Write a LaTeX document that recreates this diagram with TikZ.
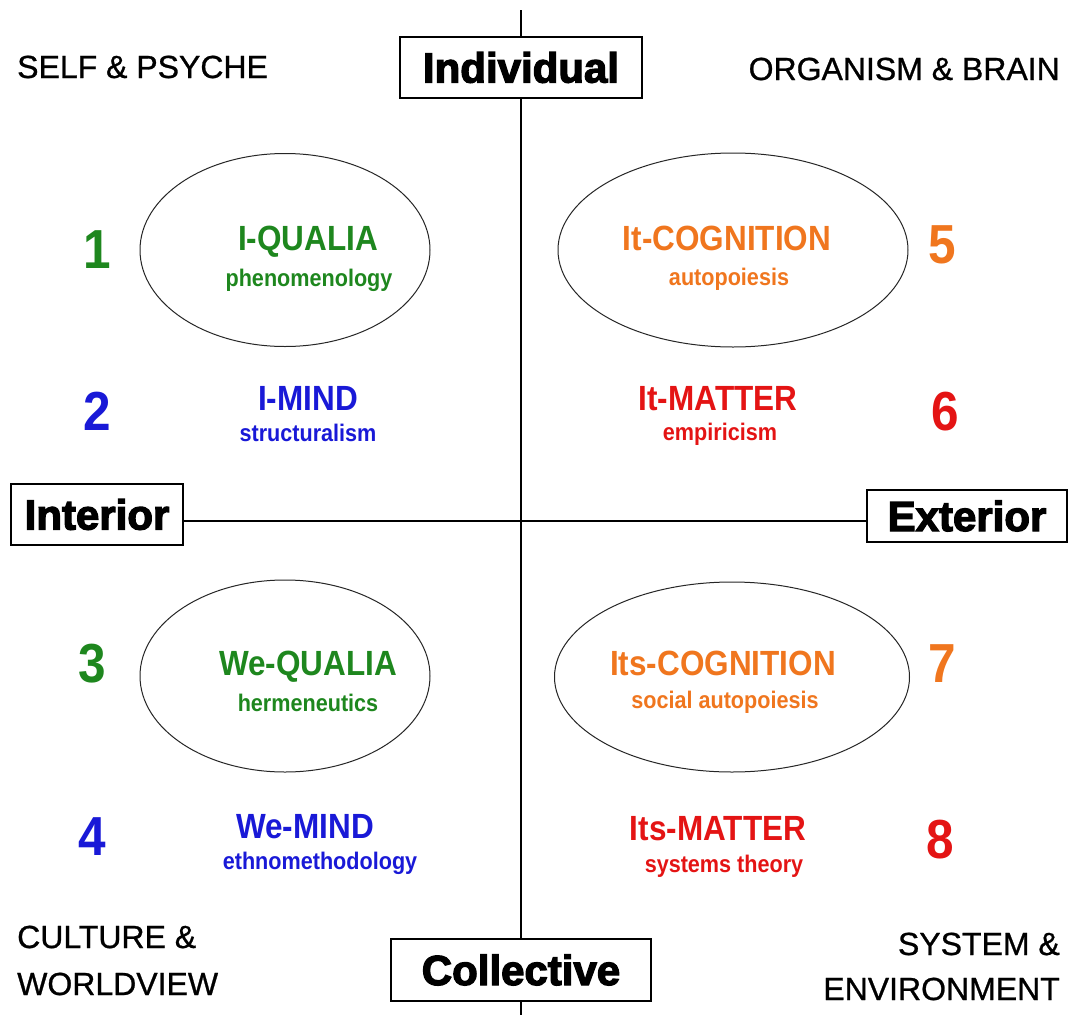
\documentclass[tikz,border=0pt]{standalone}
\usepackage{fontspec}
\usetikzlibrary{shapes.geometric}
\setmainfont{Liberation Sans}
\newfontfamily\heavyfont{Liberation Sans}[BoldFeatures={FakeBold=3}]
\newfontfamily\narrowfont{Liberation Sans}[FakeStretch=0.9]
\newfontfamily\capfont{Liberation Sans}[FakeBold=0.8]
\newcommand\setfs[1]{\fontsize{#1}{#1}\selectfont}
\definecolor{qgreen}{RGB}{30,135,30}
\definecolor{qblue}{RGB}{25,25,215}
\definecolor{qorange}{RGB}{240,118,30}
\definecolor{qred}{RGB}{228,20,20}
\begin{document}
\begin{tikzpicture}[x=1pt,y=-1pt,
  axis/.style={line width=1.5pt,black},
  labelbox/.style={draw,line width=1.5pt,fill=white,inner sep=0pt,
    font=\heavyfont\bfseries\setfs{42}},
  oval/.style={draw,ellipse,line width=1pt,black!85,inner sep=0pt},
  head/.style={anchor=base,inner sep=0pt,font=\narrowfont\bfseries\setfs{35}},
  sub/.style={anchor=base,inner sep=0pt,font=\narrowfont\bfseries\setfs{24}},
  num/.style={anchor=base,inner sep=0pt,font=\narrowfont\bfseries\setfs{55}},
  corner/.style={inner sep=0pt,font=\capfont\setfs{32}},
]
\useasboundingbox (0,0) rectangle (1077,1015);
\fill[white] (0,0) rectangle (1077,1015);

% ellipses around the qualia / cognition quadrants
\node[oval,minimum width=290,minimum height=193] (e1) at (285,250) {};
\node[oval,minimum width=350,minimum height=194] (e5) at (733,250) {};
\node[oval,minimum width=290,minimum height=192] (e3) at (285,676) {};
\node[oval,minimum width=355,minimum height=190] (e7) at (732,677) {};

% axis labels
\node[labelbox,minimum width=242,minimum height=61] (ind) at (521,67.5) {Individual};
\node[labelbox,minimum width=260,minimum height=62] (col) at (521,970) {Collective};
\node[labelbox,minimum width=172,minimum height=61] (int) at (97,514.5) {Interior};
\node[labelbox,minimum width=200,minimum height=52] (ext) at (967,516) {Exterior};

% axes
\coordinate (vtop) at (521,10);
\coordinate (vbot) at (521,1015);
\coordinate (hl) at (0,521);
\draw[axis] (vtop) -- (ind.north);
\draw[axis] (ind.south) -- (col.north);
\draw[axis] (col.south) -- (vbot);
\draw[axis] (int.east |- hl) -- (ext.west |- hl);

% quadrant contents
\node[head,text=qgreen] (h1) at (308,250) {I-QUALIA};
\node[sub,text=qgreen] (s1) at (309,286) {phenomenology};
\node[head,text=qblue] (h2) at (308,410) {I-MIND};
\node[sub,text=qblue] (s2) at (308,441) {structuralism};
\node[head,text=qgreen] (h3) at (308,675) {We-QUALIA};
\node[sub,text=qgreen] (s3) at (308,711) {hermeneutics};
\node[head,text=qblue] (h4) at (305,838) {We-MIND};
\node[sub,text=qblue] (s4) at (320,869) {ethnomethodology};
\node[head,text=qorange] (h5) at (727,250) {It-COGNITION};
\node[sub,text=qorange] (s5) at (729,285) {autopoiesis};
\node[head,text=qred] (h6) at (718,410) {It-MATTER};
\node[sub,text=qred] (s6) at (720,440) {empiricism};
\node[head,text=qorange] (h7) at (723,675) {Its-COGNITION};
\node[sub,text=qorange] (s7) at (725,708) {social autopoiesis};
\node[head,text=qred] (h8) at (718,840) {Its-MATTER};
\node[sub,text=qred] (s8) at (724,872) {systems theory};

% numbers
\node[num,text=qgreen] (n1) at (97,268) {1};
\node[num,text=qblue] (n2) at (97,430) {2};
\node[num,text=qgreen] (n3) at (92,682) {3};
\node[num,text=qblue] (n4) at (92,855) {4};
\node[num,text=qorange] (n5) at (942,263) {5};
\node[num,text=qred] (n6) at (945,430) {6};
\node[num,text=qorange] (n7) at (942,682) {7};
\node[num,text=qred] (n8) at (940,858) {8};

% corner captions
\node[corner,anchor=base west] (c1) at (17,78) {SELF \& PSYCHE};
\node[corner,anchor=base east] (c2) at (1060,80) {ORGANISM \& BRAIN};
\node[corner,anchor=base west,align=left,font=\capfont\fontsize{32}{47}\selectfont] (c3) at (17,995) {CULTURE \&\\WORLDVIEW};
\node[corner,anchor=base east,align=right,font=\capfont\fontsize{32}{45}\selectfont] (c4) at (1060,1000) {SYSTEM \&\\ENVIRONMENT};
\end{tikzpicture}
\end{document}
